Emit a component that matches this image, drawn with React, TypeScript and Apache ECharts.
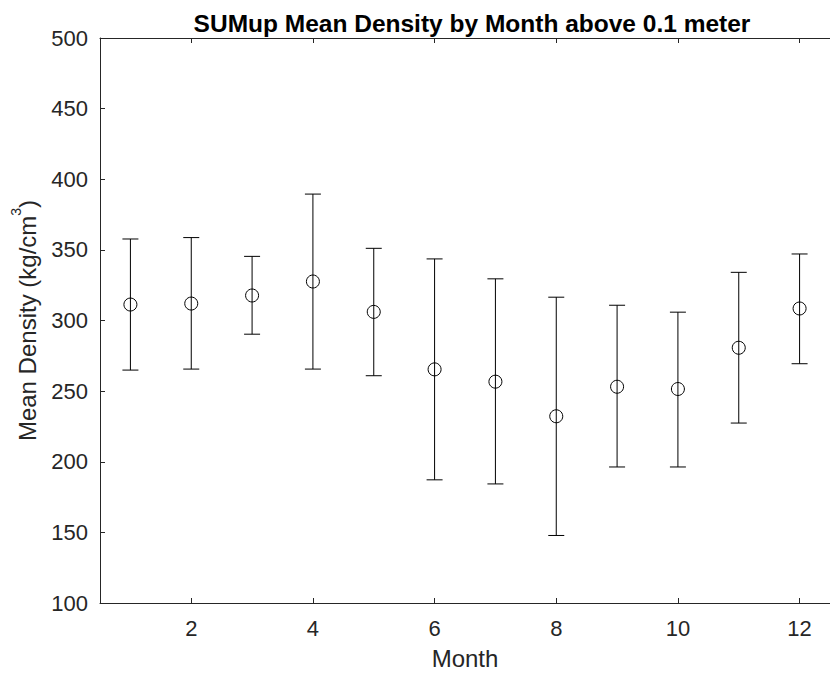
import React, { useEffect, useRef } from "react";
import * as echarts from "echarts";

const months = [1, 2, 3, 4, 5, 6, 7, 8, 9, 10, 11, 12];
const meanDensity = [311.3, 312, 317.7, 327.6, 306.1, 265.4, 256.7, 232.2, 253.1, 251.5, 280.7, 308.5];
const lowerBound = [264.9, 265.6, 290.3, 265.6, 260.9, 187.2, 184.3, 147.8, 196.3, 196.3, 227.4, 269.4];
const upperBound = [357.7, 358.7, 345.4, 389.5, 351.1, 343.6, 329.5, 316.5, 310.8, 305.9, 334.1, 347.1];
const xTickValues = [2, 4, 6, 8, 10, 12];

const AXIS_COLOR = "#262626";
const FONT = "'Liberation Sans', Arial, Helvetica, sans-serif";

export default function App() {
  const ref = useRef<HTMLDivElement>(null);

  useEffect(() => {
    if (!ref.current) return;
    const chart = echarts.init(ref.current, undefined, { renderer: "svg" });

    const data = months.map((m, i) => [m, meanDensity[i], lowerBound[i], upperBound[i]]);

    const xCommon = {
      type: "value",
      min: 0.5,
      max: 12.5,
      splitLine: { show: false },
      axisLine: { show: true, lineStyle: { color: AXIS_COLOR, width: 1 } },
      axisTick: {
        show: true,
        inside: true,
        length: 5,
        customValues: xTickValues,
        lineStyle: { color: AXIS_COLOR, width: 1 },
      },
    };

    chart.setOption({
      animation: false,
      backgroundColor: "#ffffff",
      title: {
        text: "SUMup Mean Density by Month above 0.1 meter",
        left: 467,
        top: 6,
        textAlign: "center",
        textStyle: { fontFamily: FONT, fontSize: 24.5, fontWeight: "bold", color: "#000000" },
      },
      grid: { left: 100, top: 38, width: 742, height: 566, containLabel: false },
      xAxis: [
        {
          ...xCommon,
          position: "bottom",
          name: "Month",
          nameLocation: "middle",
          nameGap: 43,
          nameTextStyle: { fontFamily: FONT, fontSize: 24, color: AXIS_COLOR },
          axisLabel: {
            show: true,
            customValues: xTickValues,
            margin: 14,
            fontFamily: FONT,
            fontSize: 22,
            color: AXIS_COLOR,
          },
        },
        {
          ...xCommon,
          position: "top",
          axisLabel: { show: false },
        },
      ],
      yAxis: {
        type: "value",
        min: 100,
        max: 500,
        interval: 50,
        splitLine: { show: false },
        axisLine: { show: true, lineStyle: { color: AXIS_COLOR, width: 1 } },
        axisTick: { show: true, inside: true, length: 5, lineStyle: { color: AXIS_COLOR, width: 1 } },
        axisLabel: { margin: 12, fontFamily: FONT, fontSize: 22, color: AXIS_COLOR },
        name: "{a|Mean Density (kg/cm}{sup|3}{a|)}",
        nameLocation: "middle",
        nameGap: 61,
        nameRotate: 90,
        nameTextStyle: {
          fontFamily: FONT,
          color: AXIS_COLOR,
          rich: {
            a: { fontFamily: FONT, fontSize: 24, lineHeight: 30, color: AXIS_COLOR, verticalAlign: "bottom" },
            sup: { fontFamily: FONT, fontSize: 14, lineHeight: 14, color: AXIS_COLOR, verticalAlign: "top" },
          },
        },
      },
      series: [
        {
          type: "custom",
          xAxisIndex: 0,
          yAxisIndex: 0,
          data,
          encode: { x: 0, y: [1, 2, 3] },
          renderItem: (params: any, api: any) => {
            const x = api.value(0);
            const pM = api.coord([x, api.value(1)]);
            const pLo = api.coord([x, api.value(2)]);
            const pHi = api.coord([x, api.value(3)]);
            const hw = 8;
            const st = { stroke: "#000000", lineWidth: 1, fill: "none" };
            return {
              type: "group",
              children: [
                { type: "line", shape: { x1: pHi[0], y1: pHi[1], x2: pLo[0], y2: pLo[1] }, style: st },
                { type: "line", shape: { x1: pHi[0] - hw, y1: pHi[1], x2: pHi[0] + hw, y2: pHi[1] }, style: st },
                { type: "line", shape: { x1: pLo[0] - hw, y1: pLo[1], x2: pLo[0] + hw, y2: pLo[1] }, style: st },
                { type: "circle", shape: { cx: pM[0], cy: pM[1], r: 6.5 }, style: st },
              ],
            };
          },
        },
      ],
    });

    return () => {
      chart.dispose();
    };
  }, []);

  return (
    <div
      ref={ref}
      style={{ position: "fixed", left: 0, top: 0, width: 830, height: 675, background: "#ffffff" }}
    />
  );
}
